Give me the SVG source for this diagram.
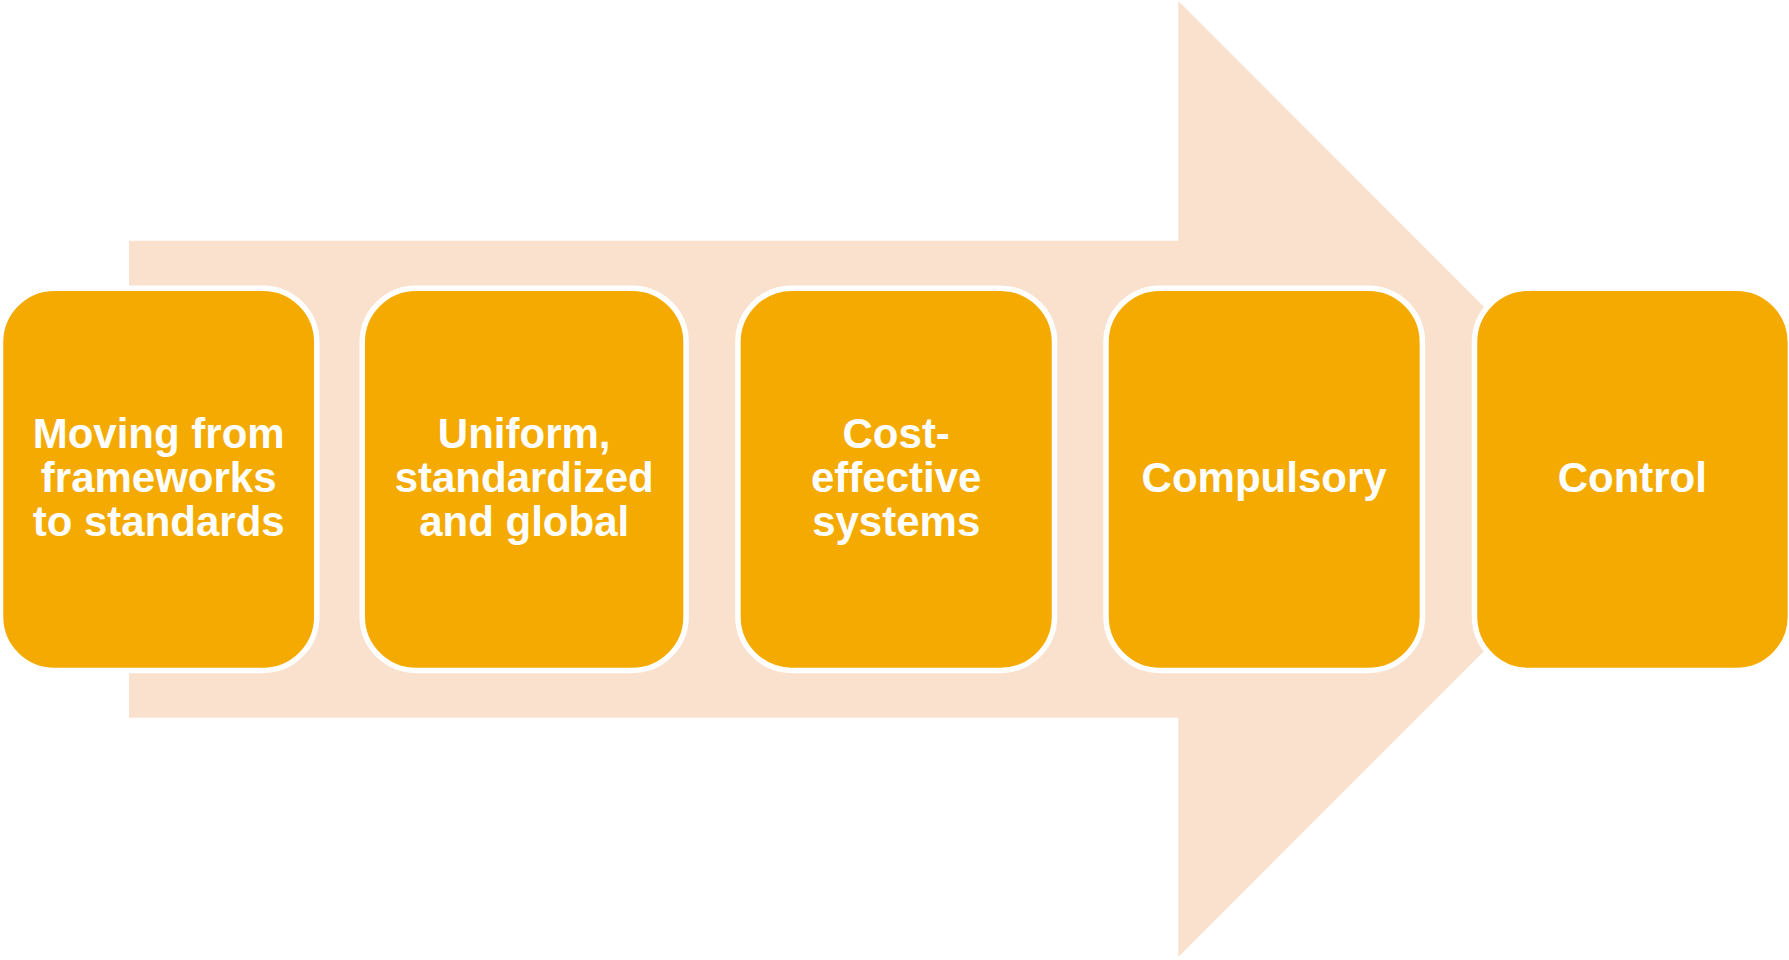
<svg xmlns="http://www.w3.org/2000/svg" width="1789" height="960" viewBox="0 0 1789 960">
<style>
.box{fill:#F4AA00;stroke:#FFFFFF;stroke-width:5.5}
.lbl{font-family:"Liberation Sans",Arial,sans-serif;font-weight:bold;font-size:42px;fill:#FFFFFF;text-anchor:middle}
</style>
<rect width="1789" height="960" fill="#FFFFFF"/>
<g id="arrow">
<polygon points="129,240.7 1178.3,240.7 1178.3,1 1656,479 1178.3,957 1178.3,717.7 129,717.7" fill="#FAE1CD"/>
</g>
<g id="connectors"></g>
<g id="node1">
<rect class="box" x="0.5" y="288.2" width="316.3" height="382.2" rx="54" ry="54"/>
<text class="lbl" x="158.7" y="447.5">Moving from</text>
<text class="lbl" x="158.7" y="491.5">frameworks</text>
<text class="lbl" x="158.7" y="535.5">to standards</text>
</g>
<g id="node2">
<rect class="box" x="362.2" y="288.2" width="323.9" height="382.2" rx="54" ry="54"/>
<text class="lbl" x="524.2" y="447.5">Uniform,</text>
<text class="lbl" x="524.2" y="491.5">standardized</text>
<text class="lbl" x="524.2" y="535.5">and global</text>
</g>
<g id="node3">
<rect class="box" x="737.9" y="288.2" width="316.6" height="382.2" rx="54" ry="54"/>
<text class="lbl" x="896.2" y="447.5">Cost-</text>
<text class="lbl" x="896.2" y="491.5">effective</text>
<text class="lbl" x="896.2" y="535.5">systems</text>
</g>
<g id="node4">
<rect class="box" x="1106" y="288.2" width="316.4" height="382.2" rx="54" ry="54"/>
<text class="lbl" x="1264.1" y="491.7">Compulsory</text>
</g>
<g id="node5">
<rect class="box" x="1474.5" y="288.2" width="315.9" height="382.2" rx="54" ry="54"/>
<text class="lbl" x="1632.3" y="491.7">Control</text>
</g>
</svg>
